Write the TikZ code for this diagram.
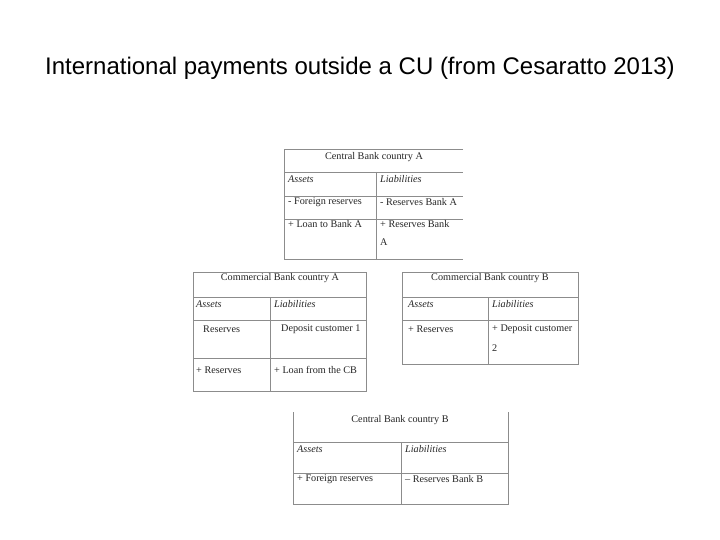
\documentclass[tikz,border=0pt]{standalone}
\usepackage{fontspec}
\setmainfont{Liberation Serif}
\newfontfamily\titlefont{Liberation Sans}
\begin{document}
\begin{tikzpicture}[x=1pt,y=-1pt,
  grid/.style={draw=black!45,line width=0.8pt},
  cell/.style={anchor=west,inner sep=0pt,font=\fontsize{10.2}{12}\selectfont,text=black!85},
  head/.style={anchor=center,inner sep=0pt,font=\fontsize{10.2}{12}\selectfont,text=black!85},
  ital/.style={cell,font=\fontsize{10.2}{12}\selectfont\itshape}]
\useasboundingbox[fill=white] (0,0) rectangle (720,540);
\node[font=\titlefont\fontsize{24}{28}\selectfont,inner sep=0pt] (title) at (360,68) {International payments outside a CU (from Cesaratto 2013)};
% CB A
\draw[grid] (463,149) -- (284,149) -- (284,259) -- (463,259);
\draw[grid] (284,172) -- (463,172) (284,196) -- (463,196) (284,219) -- (463,219) (376,172) -- (376,259);
\node[head] (a0) at (374,157) {Central Bank country A};
\node[ital] (a1) at (288,179) {Assets};
\node[ital] (a2) at (380,179) {Liabilities};
\node[cell] (a3) at (288,202) {- Foreign reserves};
\node[cell] (a4) at (380,202) {- Reserves Bank A};
\node[cell] (a5) at (288,224) {+ Loan to Bank A};
\node[cell] (a6) at (380,224) {+ Reserves Bank};
\node[cell] (a7) at (380,242) {A};
% Comm A
\draw[grid] (193,272) rectangle (366,391);
\draw[grid] (193,297) -- (366,297) (193,320) -- (366,320) (193,358) -- (366,358) (270,297) -- (270,391);
\node[head] (b0) at (280,278) {Commercial Bank country A};
\node[ital] (b1) at (196,304) {Assets};
\node[ital] (b2) at (274,304) {Liabilities};
\node[cell] (b3) at (203,329) {Reserves};
\node[cell] (b4) at (281,329) {Deposit customer 1};
\node[cell] (b5) at (196,370) {+ Reserves};
\node[cell] (b6) at (274,370) {+ Loan from the CB};
% Comm B
\draw[grid] (402,272) rectangle (578,364);
\draw[grid] (402,297) -- (578,297) (402,320) -- (578,320) (488,297) -- (488,364);
\node[head] (c0) at (490,278) {Commercial Bank country B};
\node[ital] (c1) at (408,304) {Assets};
\node[ital] (c2) at (492,304) {Liabilities};
\node[cell] (c3) at (408,329) {+ Reserves};
\node[cell] (c4) at (492,329) {+ Deposit customer};
\node[cell] (c5) at (492,348) {2};
% CB B
\draw[grid] (293,412) -- (293,504) -- (508,504) -- (508,412);
\draw[grid] (293,442) -- (508,442) (293,473) -- (508,473) (401,442) -- (401,504);
\node[head] (d0) at (400,420) {Central Bank country B};
\node[ital] (d1) at (297,449) {Assets};
\node[ital] (d2) at (405,449) {Liabilities};
\node[cell] (d3) at (297,479) {+ Foreign reserves};
\node[cell] (d4) at (405,479) {{\textendash} Reserves Bank B};
\end{tikzpicture}
\end{document}
